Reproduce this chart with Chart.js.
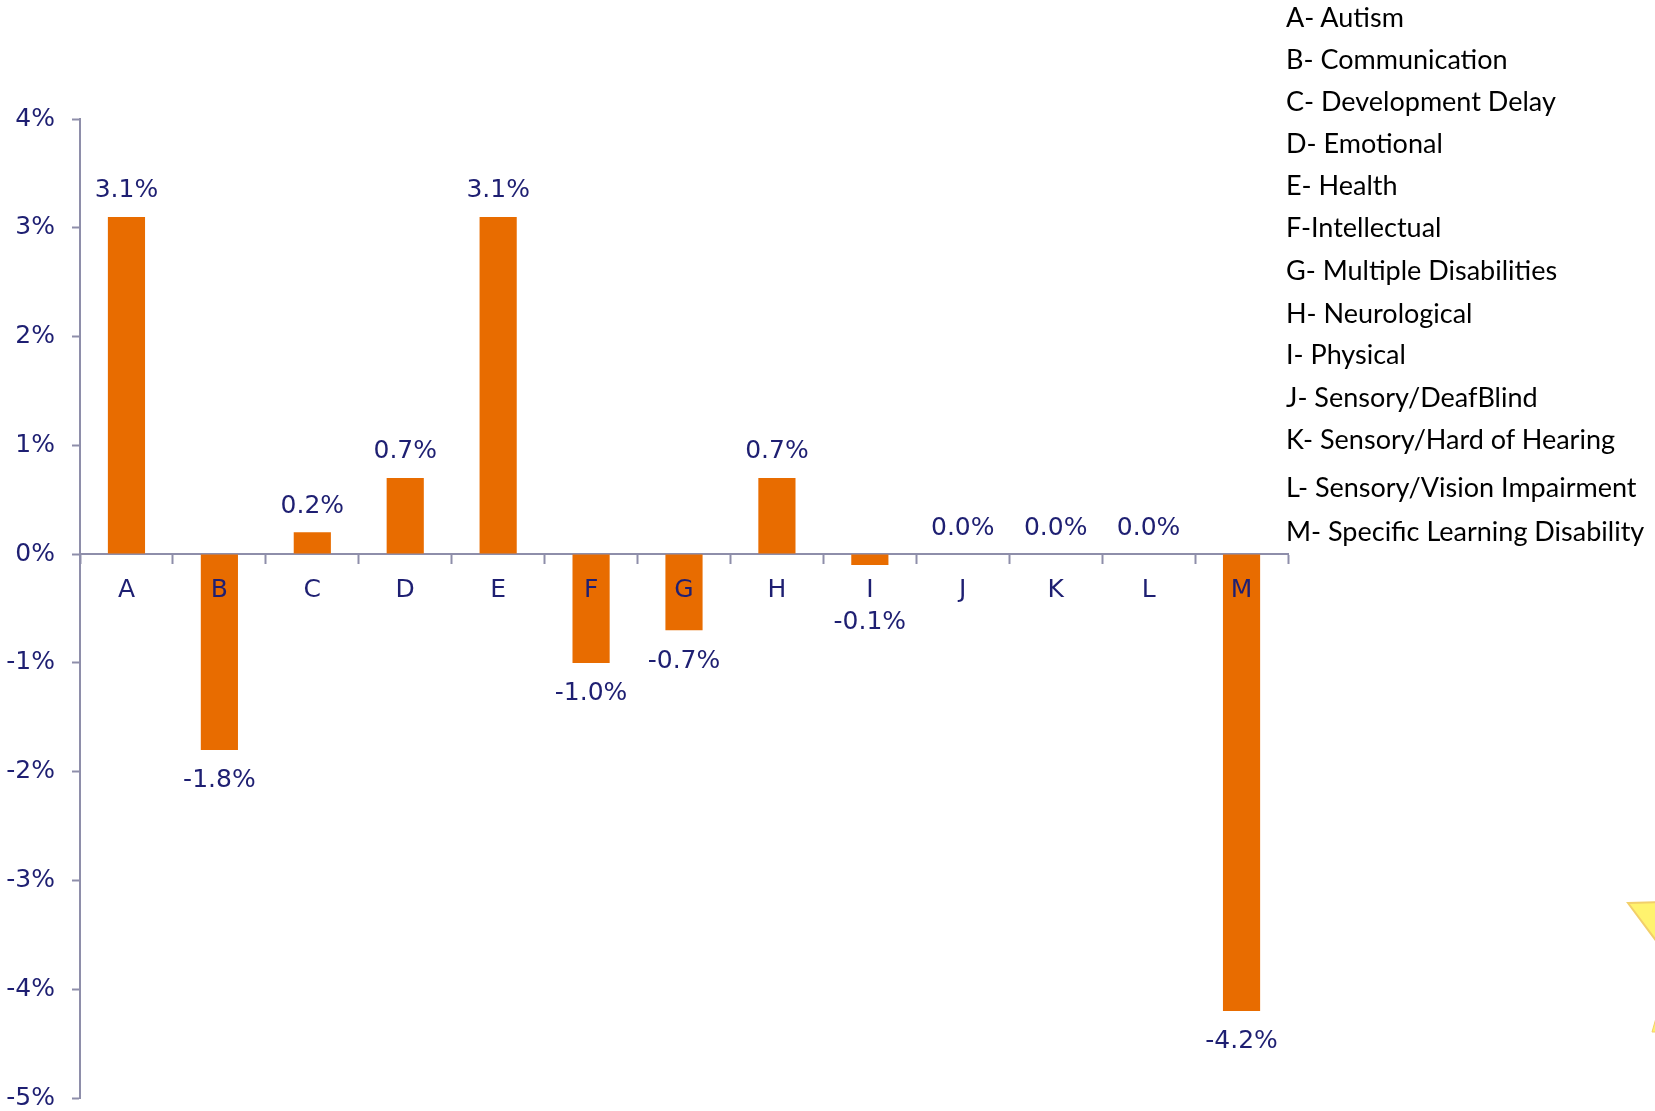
<!DOCTYPE html>
<html>
<head>
<meta charset="utf-8">
<script src="https://cdn.jsdelivr.net/npm/chart.js@4"></script>
<style>
  html, body { margin: 0; padding: 0; background: #fff; overflow: hidden; }
  #wrap { position: relative; width: 1655px; height: 1111px; }
  canvas { position: absolute; left: 0; top: 0; }
  .leg { position: absolute; left: 1286px; font-family: Lato, "Open Sans", sans-serif; font-size: 27px; color: #000; white-space: nowrap; line-height: 30px; }
  svg.deco { position: absolute; left: 0; top: 0; pointer-events: none; }
</style>
</head>
<body>
<div id="wrap">
  <canvas id="c" width="1655" height="1111"></canvas>
  <div id="legend"></div>
  <svg class="deco" width="1655" height="1111">
    <polygon points="1628,903 1660,902 1660,946" fill="#FFF36E" stroke="#F2CF6A" stroke-width="2"/>
    <polygon points="1652,1032 1656,1018 1660,1032" fill="#FFF36E" stroke="#F2CF6A" stroke-width="1"/>
  </svg>
</div>
<script>
const categories = ["A","B","C","D","E","F","G","H","I","J","K","L","M"];
const values = [3.1, -1.8, 0.2, 0.7, 3.1, -1.0, -0.7, 0.7, -0.1, 0.0, 0.0, 0.0, -4.2];
const legendItems = ["A- Autism","B- Communication","C- Development Delay","D- Emotional","E- Health","F-Intellectual","G- Multiple Disabilities","H- Neurological","I- Physical","J- Sensory/DeafBlind","K- Sensory/Hard of Hearing","L- Sensory/Vision Impairment","M- Specific Learning Disability"];
const legendCenters = [17, 59, 101, 143, 185, 227, 270, 313, 354, 397, 439, 487, 531];
const yMin = -5, yMax = 4, yStep = 1;

const NAVY = "#1E1F72";
const FONT = "'DejaVu Sans', sans-serif";

const legendDiv = document.getElementById("legend");
legendItems.forEach((t, i) => {
  const d = document.createElement("div");
  d.className = "leg";
  d.textContent = t;
  d.style.top = (legendCenters[i] - 15) + "px";
  legendDiv.appendChild(d);
});

const labelPlugin = {
  id: "valueLabels",
  afterDatasetsDraw(chart) {
    const ctx = chart.ctx;
    const meta = chart.getDatasetMeta(0);
    const xs = chart.scales.x;
    const zeroY = chart.scales.y.getPixelForValue(0);
    ctx.save();
    ctx.font = "25px " + FONT;
    ctx.fillStyle = NAVY;
    ctx.textAlign = "center";
    ctx.textBaseline = "middle";
    meta.data.forEach((bar, i) => {
      const v = values[i];
      const y = v >= 0 ? bar.y - 26 : Math.max(bar.y + 31, zeroY + 68);
      ctx.fillText(v.toFixed(1) + "%", bar.x, y);
    });
    categories.forEach((c, i) => {
      ctx.fillText(c, xs.getPixelForValue(i), zeroY + 36);
    });
    ctx.restore();
  }
};

new Chart(document.getElementById("c"), {
  type: "bar",
  data: {
    labels: categories,
    datasets: [{
      data: values,
      backgroundColor: "#E86C00",
      borderWidth: 0,
      categoryPercentage: 1.0,
      barPercentage: 0.4
    }]
  },
  options: {
    responsive: false,
    animation: false,
    devicePixelRatio: 1,
    layout: { padding: { top: 119, bottom: 13, right: 367, left: 0 } },
    plugins: { legend: { display: false }, tooltip: { enabled: false } },
    scales: {
      x: {
        position: { y: 0 },
        afterFit(scale) { scale.height = 0; scale.paddingLeft = 0; scale.paddingRight = 0; scale.paddingTop = 0; scale.paddingBottom = 0; },
        grid: { display: true, drawOnChartArea: false, drawTicks: true, tickLength: 9, tickColor: "#8E8EAA", tickWidth: 2, offset: true },
        border: { display: true, color: "#8E8EAA", width: 2 },
        ticks: { display: false, autoSkip: false }
      },
      y: {
        min: yMin, max: yMax,
        afterFit(scale) { scale.width = 80; scale.paddingTop = 0; scale.paddingBottom = 0; },
        grid: { display: true, drawOnChartArea: false, drawTicks: true, tickLength: 8, tickColor: "#8E8EAA", tickWidth: 2 },
        border: { display: true, color: "#8E8EAA", width: 2 },
        ticks: { stepSize: yStep, color: NAVY, font: { family: FONT, size: 25 }, padding: 17, callback: v => v + "%" }
      }
    }
  },
  plugins: [labelPlugin]
});
</script>
</body>
</html>
